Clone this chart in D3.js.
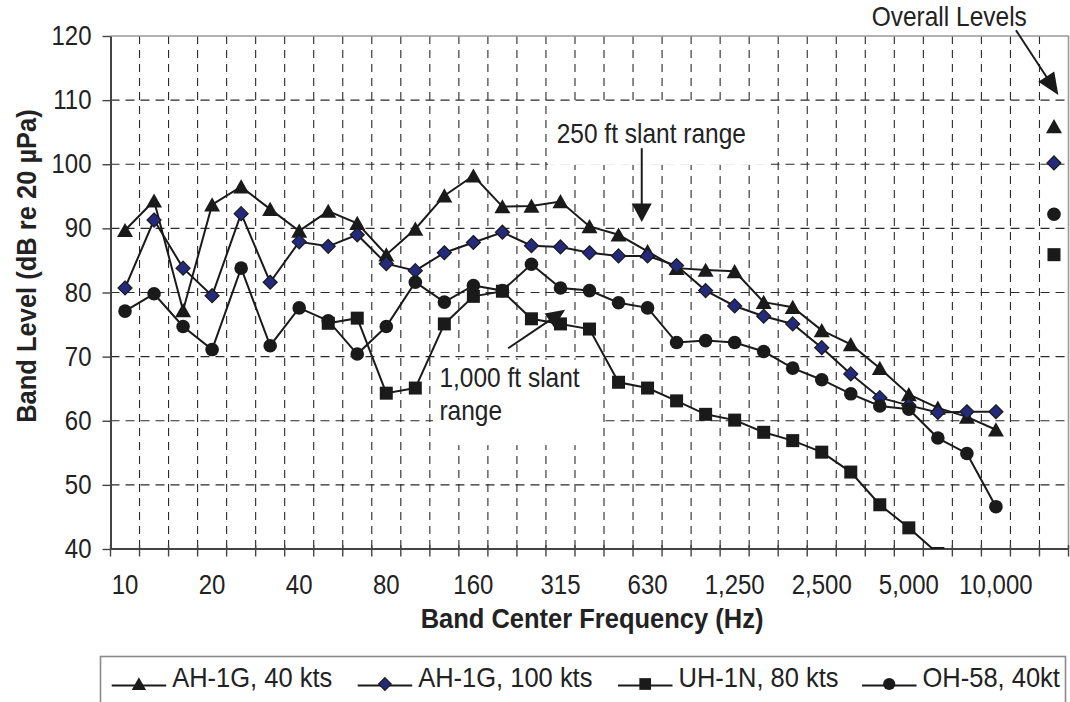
<!DOCTYPE html>
<html><head><meta charset="utf-8">
<script src="https://cdn.jsdelivr.net/npm/d3@7"></script>
<style>
html,body{margin:0;padding:0;background:#fff;}
svg{display:block;font-family:"Liberation Sans",Arial,Helvetica,sans-serif;}
</style></head><body>
<svg id="chart" width="1070" height="702"></svg>
<script>
// ---------- data ----------
const bandLabels = ["10","12.5","16","20","25","31.5","40","50","63","80","100","125","160","200","250","315","400","500","630","800","1,000","1,250","1,600","2,000","2,500","3,150","4,000","5,000","6,300","8,000","10,000"];
const categories = bandLabels.concat(["", "Overall"]);
const tickLabels = ["10","20","40","80","160","315","630","1,250","2,500","5,000","10,000"];
const yTicks = [40,50,60,70,80,90,100,110,120];

const seriesNames = ["AH-1G, 40 kts","AH-1G, 100 kts","UH-1N, 80 kts","OH-58, 40kt"];
const markerTypes = ["triangle","diamond","square","circle"];

const ah1g40  = [89.7,94.3,77.2,93.7,96.5,93.0,89.6,92.7,90.8,85.9,89.9,95.1,98.2,93.4,93.5,94.2,90.3,89.0,86.4,83.8,83.5,83.3,78.5,77.7,74.1,71.9,68.2,64.1,62.0,60.6,58.6];
const ah1g100 = [80.7,91.3,83.8,79.5,92.3,81.6,87.9,87.2,89.0,84.5,83.4,86.2,87.8,89.4,87.3,87.1,86.2,85.7,85.7,84.2,80.3,77.9,76.3,75.1,71.4,67.3,63.6,62.4,61.3,61.4,61.4];
const uh1n80  = [null,null,null,null,null,null,null,75.2,76.0,64.3,65.1,75.1,79.4,80.2,75.9,75.1,74.3,66.0,65.1,63.1,61.0,60.1,58.2,56.9,55.1,52.0,46.9,43.3,39.3,null,null];
const oh58    = [77.1,79.8,74.7,71.1,83.8,71.7,77.6,75.6,70.4,74.7,81.6,78.5,81.1,80.3,84.4,80.7,80.3,78.4,77.6,72.2,72.5,72.2,70.8,68.2,66.4,64.2,62.3,61.8,57.3,54.9,46.6];
const overallLevels = [105.9,100.2,85.9,92.2];

const annotationTexts = ["250 ft slant range","1,000 ft slant","range","Overall Levels"];

// ---------- layout ----------
const svg = d3.select("#chart");
const plot = {left:110.5, right:1068.5, top:36, bottom:549};
const x = d3.scaleBand().domain(categories).range([plot.left, plot.right]).paddingInner(0).paddingOuter(0);
const bw = x.bandwidth();
const cx = c => x(c) + bw/2;
const xi = d3.scaleLinear().domain([0, categories.length]).range([plot.left, plot.right]);
const y = d3.scaleLinear().domain([40,120]).range([plot.bottom, plot.top]);
const ink = "#1a1a1a";
const txt = "#222";
const SY = 1.12; // vertical stretch of glyphs, as in the reference

function place(sel, fx, fy){
  sel.attr("transform",(d,i)=>`translate(${typeof fx==="function"?fx(d,i):fx},${typeof fy==="function"?fy(d,i):fy}) scale(1,${SY})`);
  return sel;
}

svg.append("defs").append("clipPath").attr("id","plotclip")
  .append("rect").attr("x",plot.left).attr("y",plot.top)
  .attr("width",plot.right-plot.left).attr("height",plot.bottom-plot.top);

// gridlines
const grid = svg.append("g");
grid.selectAll("line.v").data(d3.range(1, categories.length)).join("line")
  .attr("x1",d=>xi(d)).attr("x2",d=>xi(d)).attr("y1",plot.top).attr("y2",plot.bottom)
  .attr("stroke","#2a2a2a").attr("stroke-width",1.1).attr("stroke-dasharray","8,6");
grid.selectAll("line.h").data(yTicks.filter(v=>v>40&&v<120)).join("line")
  .attr("x1",plot.left).attr("x2",plot.right).attr("y1",d=>y(d)).attr("y2",d=>y(d))
  .attr("stroke","#2a2a2a").attr("stroke-width",1.1).attr("stroke-dasharray","9,6");

// white annotation boxes
const boxes = [ {x0:15.07,x1:22.75,v0:109.6,v1:99.9}, {x0:11.11,x1:16.93,v0:69.5,v1:56.2} ];
svg.append("g").selectAll("rect").data(boxes).join("rect")
  .attr("x",d=>xi(d.x0)).attr("width",d=>xi(d.x1)-xi(d.x0))
  .attr("y",d=>y(d.v0)).attr("height",d=>y(d.v1)-y(d.v0)).attr("fill","#fff");

svg.append("path").attr("d",`M${plot.left},${plot.top}H${plot.right}V${plot.bottom}`)
  .attr("fill","none").attr("stroke","#999").attr("stroke-width",1.6);

// y axis
const ya = svg.append("g").attr("transform",`translate(${plot.left},0)`)
  .call(d3.axisLeft(y).tickValues(yTicks).tickSize(8).tickSizeOuter(0).tickPadding(11));
ya.select(".domain").attr("stroke","#444").attr("stroke-width",2);
ya.selectAll(".tick line").attr("stroke","#444").attr("stroke-width",1.4);
ya.selectAll(".tick text").attr("font-size",24).attr("fill",txt)
  .attr("font-family","Liberation Sans, Arial, sans-serif")
  .attr("transform",`scale(1,${SY})`);

// x axis
const xa = svg.append("g");
xa.append("line").attr("x1",plot.left).attr("x2",plot.right).attr("y1",plot.bottom).attr("y2",plot.bottom)
  .attr("stroke","#444").attr("stroke-width",2);
xa.selectAll("line.t").data(d3.range(0, categories.length+1)).join("line")
  .attr("x1",d=>xi(d)).attr("x2",d=>xi(d)).attr("y1",plot.bottom-4).attr("y2",plot.bottom+7.5)
  .attr("stroke","#444").attr("stroke-width",1.4);
place(xa.selectAll("text").data(tickLabels).join("text"), d=>cx(d), 594.3)
  .attr("text-anchor","middle").attr("font-size",24).attr("fill",txt).text(d=>d);

// axis titles
place(svg.append("text"), 592, 628.3).attr("text-anchor","middle")
  .attr("font-size",25.5).attr("font-weight","bold").attr("fill",txt)
  .text("Band Center Frequency (Hz)");
svg.append("text").attr("transform",`translate(36,266) rotate(-90) scale(1,${SY})`).attr("text-anchor","middle")
  .attr("font-size",25.5).attr("font-weight","bold").attr("fill",txt)
  .text("Band Level (dB re 20 µPa)");

// markers
function marker(sel, type, s){
  s = s||1;
  if(type==="triangle") sel.append("path").attr("d",`M0,${-7.4*s}L${8*s},${6.8*s}L${-8*s},${6.8*s}Z`).attr("fill",ink);
  else if(type==="diamond") sel.append("path").attr("d",`M0,${-7*s}L${7*s},0L0,${7*s}L${-7*s},0Z`).attr("fill","#232a7c").attr("stroke",ink).attr("stroke-width",1.2);
  else if(type==="square") sel.append("rect").attr("x",-6.5*s).attr("y",-6.5*s).attr("width",13*s).attr("height",13*s).attr("fill",ink);
  else sel.append("circle").attr("r",6.8*s).attr("fill",ink);
}

const allSeries = [ah1g40, ah1g100, uh1n80, oh58];
const gData = svg.append("g").attr("clip-path","url(#plotclip)");
const line = d3.line().defined(d=>d.v!=null).x(d=>cx(d.c)).y(d=>y(d.v));
allSeries.forEach((vals,si)=>{
  const pts = vals.map((v,i)=>({c:bandLabels[i], v:v}));
  gData.append("path").datum(pts).attr("d",line).attr("fill","none").attr("stroke",ink).attr("stroke-width",2);
});
allSeries.forEach((vals,si)=>{
  const pts = vals.map((v,i)=>({c:bandLabels[i], v:v})).filter(d=>d.v!=null);
  pts.push({c:"Overall", v:overallLevels[si]});
  gData.selectAll(null).data(pts).join("g")
    .attr("transform",d=>`translate(${cx(d.c)},${y(d.v)})`)
    .each(function(){ marker(d3.select(this), markerTypes[si]); });
});

// annotations
const ann = svg.append("g");
function arrow(p0, p1, L, Wd){
  const X0=xi(p0[0]), Y0=y(p0[1]), X1=xi(p1[0]), Y1=y(p1[1]);
  const dx=X1-X0, dy=Y1-Y0, len=Math.hypot(dx,dy), ux=dx/len, uy=dy/len, nx=-uy, ny=ux;
  const bx=X1-ux*L, by=Y1-uy*L;
  ann.append("line").attr("x1",X0).attr("y1",Y0).attr("x2",bx+ux*2).attr("y2",by+uy*2)
    .attr("stroke",ink).attr("stroke-width",2);
  ann.append("path").attr("d",`M${X1},${Y1}L${bx+nx*Wd},${by+ny*Wd}L${bx-nx*Wd},${by-ny*Wd}Z`).attr("fill",ink);
}
arrow([18.30,102.5],[18.30,91.0],18.5,10);
arrow([13.70,71.3],[15.66,77.3],19,8.5);
arrow([31.19,120.9],[32.65,110.8],22,9.5);

const annPos = [[15.37,103.3],[11.33,65.2],[11.33,60.1],[26.22,121.6]];
place(ann.selectAll("text").data(annotationTexts).join("text"), (d,i)=>xi(annPos[i][0]), (d,i)=>y(annPos[i][1]))
  .attr("font-size",24.5).attr("fill",txt).text(d=>d);

// legend
const lg = svg.append("g");
lg.append("rect").attr("x",100.5).attr("y",656.5).attr("width",965).attr("height",70)
  .attr("fill","#fff").attr("stroke","#8a8a8a").attr("stroke-width",1.6);
const legendX = [111.7, 357.7, 618, 862];
seriesNames.forEach((name,i)=>{
  const g = lg.append("g").attr("transform",`translate(${legendX[i]},684)`);
  g.append("line").attr("x1",0).attr("x2",54.5).attr("y1",1.5).attr("y2",1.5).attr("stroke",ink).attr("stroke-width",2);
  const m = g.append("g").attr("transform","translate(27.2,0)");
  marker(m, markerTypes[i], 0.9);
  place(g.append("text"), 60.5, 2.7).attr("font-size",25.5).attr("fill",txt).text(name);
});
</script>
</body></html>
